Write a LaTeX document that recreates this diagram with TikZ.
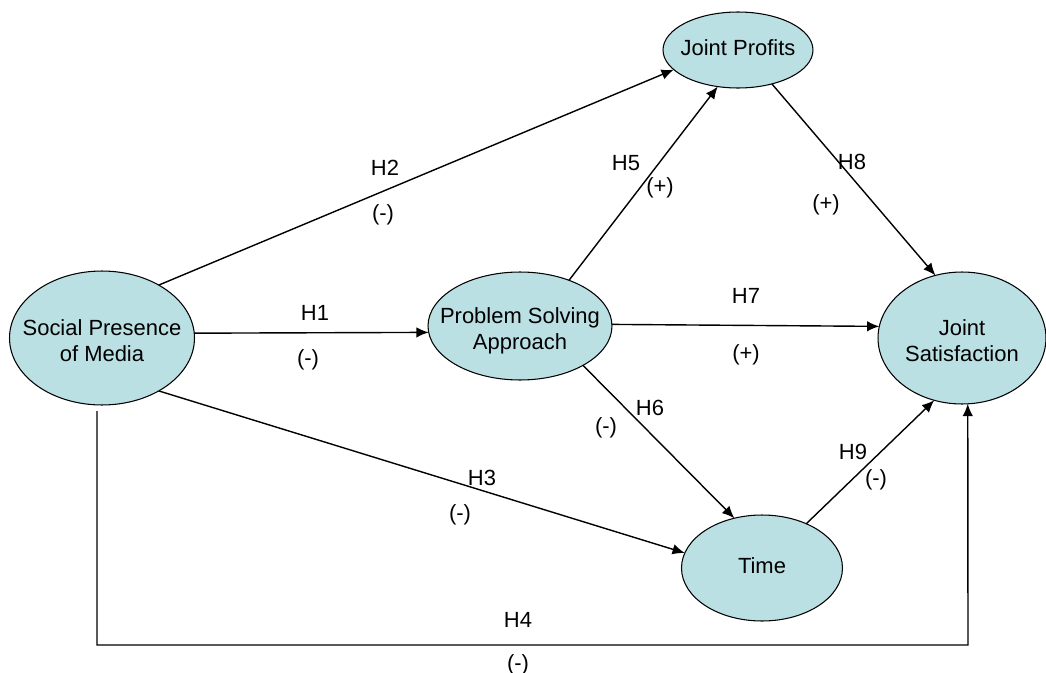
\documentclass[tikz,border=0pt]{standalone}
\usepackage{fontspec}
\setmainfont{Liberation Sans}
\usetikzlibrary{shapes.geometric,arrows.meta}
\definecolor{nodefill}{RGB}{187,224,228}
\newcommand{\ellipsetext}[1]{\makebox[0pt]{\begin{tabular}{@{}c@{}}#1\end{tabular}}}
\newcommand{\ellipsetextlow}[1]{\makebox[0pt]{\raisebox{-5.8pt}[0pt][0pt]{\begin{tabular}{@{}c@{}}#1\end{tabular}}}}
\begin{document}
\begin{tikzpicture}[x=0.02cm,y=-0.02cm,
  font=\fontsize{12.5}{15}\selectfont,
  construct/.style={ellipse,draw=black,line width=0.6pt,fill=nodefill,inner sep=0pt,outer sep=0pt},
  link/.style={line width=0.8pt,-{Latex[length=7pt,width=6pt]}},
  lbl/.style={inner sep=1pt}]
\useasboundingbox (0,0) rectangle (1046,673);
\node[construct,minimum width=3.7cm,minimum height=2.68cm] (spm) at (102,338) {\ellipsetextlow{Social Presence\\of Media}};
\node[construct,minimum width=3.0cm,minimum height=1.52cm] (jp) at (738,50) {\ellipsetext{Joint Profits}};
\node[construct,minimum width=3.68cm,minimum height=2.16cm] (psa) at (520,326) {\ellipsetextlow{Problem Solving\\Approach}};
\node[construct,minimum width=3.36cm,minimum height=2.64cm] (js) at (962,338) {\ellipsetextlow{Joint\\Satisfaction}};
\node[construct,minimum width=3.22cm,minimum height=2.12cm] (time) at (762,568) {\ellipsetext{Time}};

\coordinate (h4s) at (97,411);
\coordinate (h4a) at (97,645);
\coordinate (h4b) at (968,645);

\draw[link] (spm.43) -- (jp.197.6);
\draw[link] (spm.3.1) -- (psa.184.4);
\draw[link] (spm.-43) -- (time.169.6);
\draw[link] (psa.43.7) -- (jp.241.6);
\draw[link] (jp.-45.8) -- (js.113);
\draw[link] (psa.1.9) -- (js.172);
\draw[link] (psa.-32.9) -- (time.119.4);
\draw[link] (time.45) -- (js.246.6);
\draw[link] (h4s) -- (h4a) -- (h4b) -- (js.-85.7);

\node[lbl] (l2) at (385,168) {H2};
\node[lbl] (s2) at (383,215) {(-)};
\node[lbl] (l1) at (315,313) {H1};
\node[lbl] (s1) at (308,360) {(-)};
\node[lbl] (l3) at (482,478) {H3};
\node[lbl] (s3) at (460,515) {(-)};
\node[lbl] (l5) at (626,163) {H5};
\node[lbl] (s5) at (660,188) {(+)};
\node[lbl] (l8) at (852,162) {H8};
\node[lbl] (s8) at (826,205) {(+)};
\node[lbl] (l7) at (746,296) {H7};
\node[lbl] (s7) at (746,355) {(+)};
\node[lbl] (l6) at (650,408) {H6};
\node[lbl] (s6) at (606,428) {(-)};
\node[lbl] (l9) at (853,452) {H9};
\node[lbl] (s9) at (876,480) {(-)};
\node[lbl] (l4) at (518,620) {H4};
\node[lbl] (s4) at (518,665) {(-)};
\end{tikzpicture}
\end{document}
